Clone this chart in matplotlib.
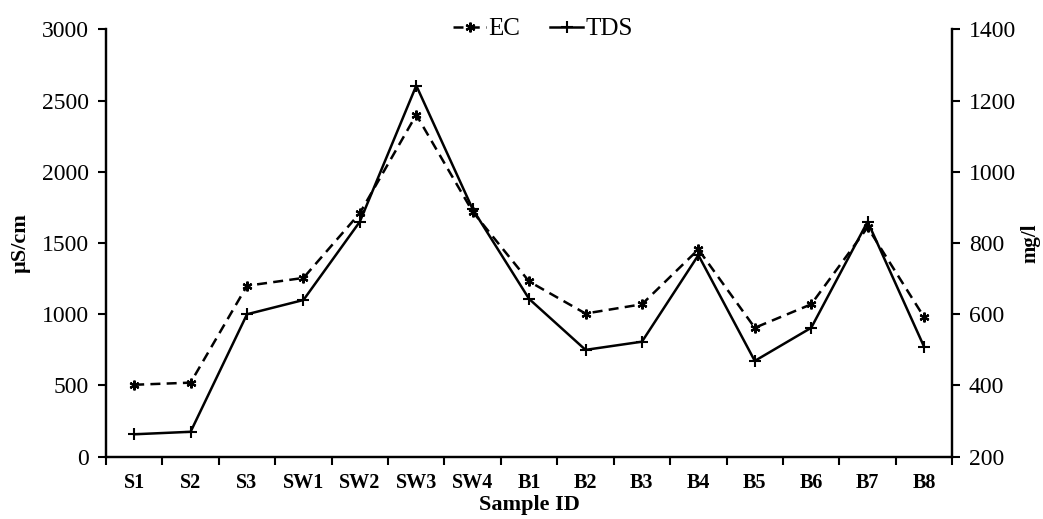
import numpy as np
import matplotlib
matplotlib.use("Agg")
from matplotlib import pyplot as plt

plt.rcParams['font.family'] = ['Liberation Serif', 'DejaVu Serif']

samples = ['S1', 'S2', 'S3', 'SW1', 'SW2', 'SW3', 'SW4',
           'B1', 'B2', 'B3', 'B4', 'B5', 'B6', 'B7', 'B8']
ec = [505, 520, 1200, 1255, 1710, 2400, 1720, 1230, 1005, 1070, 1455, 905, 1070, 1610, 980]
tds = [263, 270, 600, 640, 860, 1242, 895, 643, 500, 523, 766, 469, 562, 860, 509]
ec_ticks = [0, 500, 1000, 1500, 2000, 2500, 3000]
tds_ticks = [200, 400, 600, 800, 1000, 1200, 1400]

fig = plt.figure(figsize=(10.43, 5.19), dpi=100)
ax = fig.add_axes([0.1016, 0.120, 0.8114, 0.8235])
ax2 = ax.twinx()

x = np.arange(len(samples))
l1, = ax.plot(x, ec, color='black', lw=1.8, ls=(0, (4, 2.5)),
              marker=(6, 2, 0), ms=7, mew=1.6, label='EC')
l2, = ax2.plot(x, tds, color='black', lw=1.8, marker='+', ms=8, mew=1.5,
               label='TDS')

ax.set_xlim(-0.5, len(samples) - 0.5)
ax.set_ylim(0, 3000)
ax.set_yticks(ec_ticks)
ax2.set_ylim(200, 1400)
ax2.set_yticks(tds_ticks)

ax.set_xticks(x)
ax.set_xticklabels(samples, fontweight='bold', fontsize=14.5)
ax.set_xticks(np.arange(-0.5, len(samples)), minor=True)
ax.tick_params(axis='x', which='major', length=0, pad=12)
ax.tick_params(axis='x', which='minor', length=6, width=1.5, direction='out')
ax.tick_params(axis='y', labelsize=17, length=6, width=1.5, direction='out', pad=6)
ax2.tick_params(axis='y', labelsize=17, length=6, width=1.5, direction='out', pad=6)

for a in (ax, ax2):
    a.spines['top'].set_visible(False)
    for s in ('left', 'right', 'bottom'):
        a.spines[s].set_linewidth(1.6)

ax.set_xlabel('Sample ID', fontweight='bold', fontsize=16, labelpad=1)
ax.set_ylabel('µS/cm', fontweight='bold', fontsize=16, labelpad=8)
ax2.set_ylabel('mg/l', fontweight='bold', fontsize=15, labelpad=3)

fig.legend([l1, l2], ['EC', 'TDS'], loc='center', ncol=2, frameon=False,
           bbox_to_anchor=(543 / 1043, 1 - 29 / 519), fontsize=18,
           handlelength=1.3, handletextpad=0.1, columnspacing=1.2)

fig.savefig('out.png', dpi=100)
